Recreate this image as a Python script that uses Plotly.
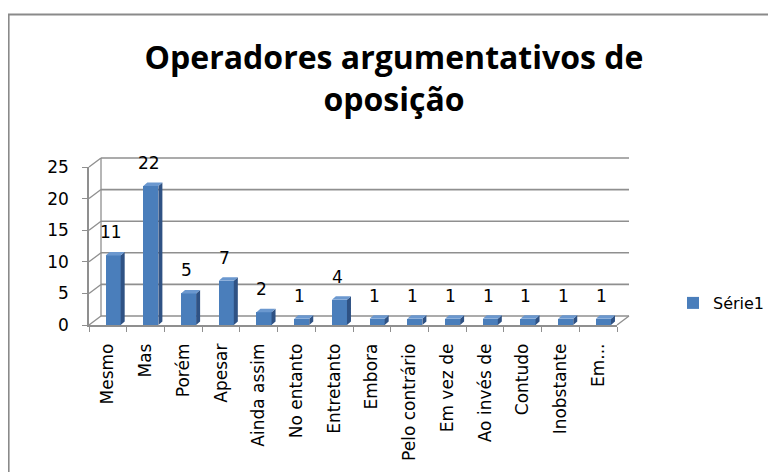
import plotly.graph_objects as go

categories = ["Mesmo", "Mas", "Porém", "Apesar", "Ainda assim", "No entanto", "Entretanto",
              "Embora", "Pelo contrário", "Em vez de", "Ao invés de", "Contudo", "Inobstante", "Em..."]
values = [11, 22, 5, 7, 2, 1, 4, 1, 1, 1, 1, 1, 1, 1]
y_ticks = [0, 5, 10, 15, 20, 25]
series_name = "Série1"
title_text = "Operadores argumentativos de<br>oposição"

# the page body has an 8px margin, so the figure is 768x464 and placed at (8, 8)
OFF = 8
W, H = 776 - OFF, 472 - OFF
FONT = "DejaVu Sans"
FRONT = "#4a7ebb"
SIDE = "#2f5284"
TOP = "#6b98cf"
GRID = "#8f8f8f"


def fx(px):
    return (px - OFF) / W


def fy(py):
    return 1 - (py - OFF) / H


# layout geometry (reference pixels)
px_left, px_right = 89, 617
px_bottom, px_top = 325, 167
YMAX = 25
dep_x, dep_y = 12, 9            # wall depth offset (px)
px_per_cat = (px_right - px_left) / len(categories)
px_per_unit = (px_bottom - px_top) / YMAX
SHIFT = 0.14                    # bar offset inside its category
BW = 0.40                       # bar front width
bdx = 4 / px_per_cat            # bar depth (category units)
bdy = 3.5 / px_per_unit         # bar depth (value units)

xs = [i + SHIFT for i in range(len(categories))]

fig = go.Figure()
fig.add_trace(go.Bar(x=xs, y=values, width=BW, name=series_name,
                     marker=dict(color=FRONT, line=dict(width=0)), showlegend=True))

# side and top faces of the 3D columns, derived from the values
sx, sy, tx, ty = [], [], [], []
for x, v in zip(xs, values):
    xl, xr = x - BW / 2, x + BW / 2
    sx += [xr, xr + bdx, xr + bdx, xr, xr, None]
    sy += [0, bdy, v + bdy, v, 0, None]
    tx += [xl, xl + bdx, xr + bdx, xr, xl, None]
    ty += [v, v + bdy, v + bdy, v, v, None]
fig.add_trace(go.Scatter(x=sx, y=sy, mode="lines", fill="toself", fillcolor=SIDE,
                         line=dict(width=0, color=SIDE), showlegend=False, hoverinfo="skip"))
fig.add_trace(go.Scatter(x=tx, y=ty, mode="lines", fill="toself", fillcolor=TOP,
                         line=dict(width=0, color=TOP), showlegend=False, hoverinfo="skip"))

# data labels
for x, v in zip(xs, values):
    fig.add_annotation(x=x - 0.06, y=v, text=str(v), showarrow=False, yanchor="bottom",
                       yshift=11, font=dict(family=FONT, size=17, color="#000000"))

# back wall gridlines + left wall diagonals (in axis-domain fractions)
dxf = dep_x / (px_right - px_left)
dyf = dep_y / (px_bottom - px_top)
shapes = []
for t in y_ticks:
    f = t / YMAX
    shapes.append(dict(type="line", xref="x domain", yref="y domain",
                       x0=dxf, x1=1 + dxf, y0=f + dyf, y1=f + dyf,
                       line=dict(color=GRID, width=1.6), layer="below"))
    shapes.append(dict(type="line", xref="x domain", yref="y domain",
                       x0=0, x1=dxf, y0=f, y1=f + dyf,
                       line=dict(color=GRID, width=1.3), layer="below"))
shapes.append(dict(type="line", xref="x domain", yref="y domain",
                   x0=dxf, x1=dxf, y0=dyf, y1=1 + dyf,
                   line=dict(color=GRID, width=1.3), layer="below"))
shapes.append(dict(type="line", xref="x domain", yref="y domain",
                   x0=1, x1=1 + dxf, y0=0, y1=dyf,
                   line=dict(color=GRID, width=1.3), layer="below"))
# chart border
shapes.append(dict(type="path", xref="paper", yref="paper",
                   path=f"M {fx(8.6)},0 L {fx(8.6)},{fy(14.5)} L 1,{fy(14.5)}",
                   line=dict(color="#8a8a8a", width=2), layer="below"))

fig.update_layout(
    width=W, height=H,
    margin=dict(l=0, r=0, t=0, b=0),
    paper_bgcolor="white", plot_bgcolor="rgba(0,0,0,0)",
    template="none",
    font=dict(family=FONT, color="#000000"),
    title=dict(text=title_text, x=fx(394), xanchor="center", y=fy(69), yanchor="bottom",
               font=dict(family="Open Sans", size=32, color="#000000", weight="bold")),
    shapes=shapes,
    bargap=0,
    showlegend=True,
    legend=dict(x=fx(673), y=fy(303), xanchor="left", yanchor="middle",
                font=dict(family=FONT, size=16, color="#000000"),
                bgcolor="rgba(0,0,0,0)", borderwidth=0),
    xaxis=dict(domain=[fx(px_left), fx(px_right)], range=[-0.5, len(categories) - 0.5],
               tickmode="array", tickvals=list(range(len(categories))), ticktext=categories,
               tickangle=-90, ticks="", showgrid=False, zeroline=False,
               showline=True, linecolor=GRID, linewidth=1.5,
               minor=dict(tickmode="linear", tick0=-0.5, dtick=1, ticks="outside",
                          ticklen=5, tickcolor=GRID, tickwidth=1.3),
               tickfont=dict(family=FONT, size=17, color="#000000"),
               ticklabelstandoff=10, automargin=False, fixedrange=True),
    yaxis=dict(domain=[fy(px_bottom), fy(px_top)], range=[0, YMAX],
               tickmode="array", tickvals=y_ticks, ticks="outside", ticklen=5,
               tickcolor=GRID, tickwidth=1.3, showgrid=False, zeroline=False,
               showline=True, linecolor=GRID, linewidth=1.5,
               tickfont=dict(family=FONT, size=17, color="#000000"),
               ticklabelstandoff=10, automargin=False, fixedrange=True),
)

fig.write_html("out.html")
